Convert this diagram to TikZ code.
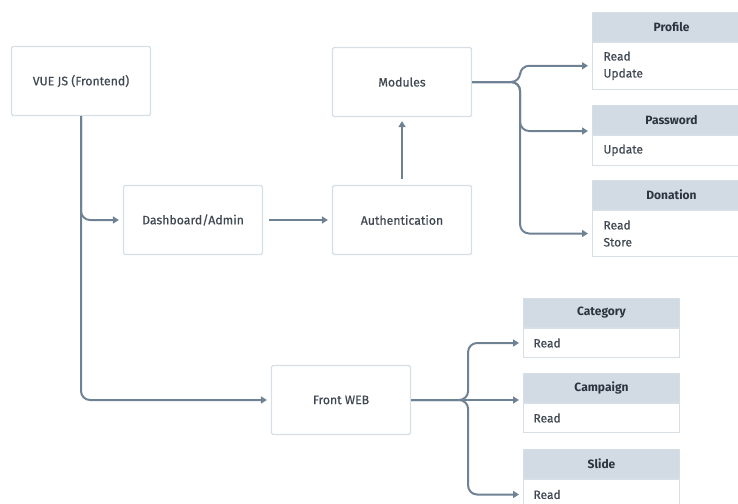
\documentclass[tikz,border=0pt]{standalone}
\usepackage{fontspec}
\setmainfont{Fira Sans}
\newfontfamily\medfont{Fira Sans}[FakeBold=0.5]
\usepackage{tikz}
\usetikzlibrary{arrows.meta}
\definecolor{wire}{HTML}{6F8294}
\definecolor{edge}{HTML}{D6DEE6}
\definecolor{headfill}{HTML}{D2DBE3}
\definecolor{ink}{HTML}{3F4852}
\definecolor{headink}{HTML}{2B3540}
\tikzset{
  box/.style={draw=edge,line width=1.2pt,rounded corners=1.5pt,minimum width=139pt,minimum height=69pt,text=ink,font=\medfont\fontsize{12.3}{14}\selectfont},
  head/.style={draw=edge,fill=headfill,line width=1pt,minimum width=156pt,minimum height=29pt,text=headink,font=\bfseries\fontsize{12}{14}\selectfont},
  body/.style={draw=edge,fill=white,line width=1pt,minimum width=156pt,text width=136pt,align=left,inner sep=9pt,text=ink,font=\medfont\fontsize{12}{17}\selectfont},
  conn/.style={draw=wire,line width=2pt,rounded corners=9pt,-{Triangle[length=6pt,width=7pt]},shorten >=4pt}
}
\begin{document}
\begin{tikzpicture}[x=1pt,y=-1pt]
\useasboundingbox (0,0) rectangle (738,503);
% main blocks
\node[box] (vue) at (81,81) {VUE JS (Frontend)};
\node[box] (dash) at (193,220) {Dashboard/Admin};
\node[box] (auth) at (402,220) {Authentication};
\node[box] (mod) at (402,82) {Modules};
\node[box] (web) at (341,400) {Front WEB};
% admin tables
\node[head,anchor=north west,minimum width=158pt] (profhead) at (592,12) {Profile};
\node[body,anchor=north west,minimum width=158pt,minimum height=45pt] (profbody) at (profhead.south west) {Read\\Update};
\node[head,anchor=north west,minimum width=158pt] (pwhead) at (592,105) {Password};
\node[body,anchor=north west,minimum width=158pt,minimum height=29pt] (pwbody) at (pwhead.south west) {Update};
\node[head,anchor=north west,minimum width=158pt] (donhead) at (592,180) {Donation};
\node[body,anchor=north west,minimum width=158pt,minimum height=46pt] (donbody) at (donhead.south west) {Read\\Store};
% web tables
\node[head,anchor=north west] (cathead) at (523,298) {Category};
\node[body,anchor=north west,minimum height=29pt] (catbody) at (cathead.south west) {Read};
\node[head,anchor=north west] (camhead) at (523,373) {Campaign};
\node[body,anchor=north west,minimum height=29pt] (cambody) at (camhead.south west) {Read};
\node[head,anchor=north west] (slidehead) at (523,449) {Slide};
\node[body,anchor=north west,minimum height=30pt] (slidebody) at (slidehead.south west) {Read};
% connectors
\draw[conn] (vue.south) |- (dash.west);
\draw[conn] (vue.south) |- (web.west);
\draw[conn,shorten <=6pt] (dash.east) -- (auth.west);
\draw[conn,shorten <=6pt] (auth.north) -- (mod.south);
\draw[conn] (mod.east) -- ++(48,0) |- (profbody.west);
\draw[conn] (mod.east) -- ++(48,0) |- ([yshift=4pt]pwhead.south west);
\draw[conn] (mod.east) -- ++(48,0) |- (donbody.west);
\draw[conn] (web.east) -- ++(57,0) |- (catbody.west);
\draw[conn] (web.east) -- (web.east -| camhead.west);
\draw[conn] (web.east) -- ++(57,0) |- (slidebody.west);
\end{tikzpicture}
\end{document}
